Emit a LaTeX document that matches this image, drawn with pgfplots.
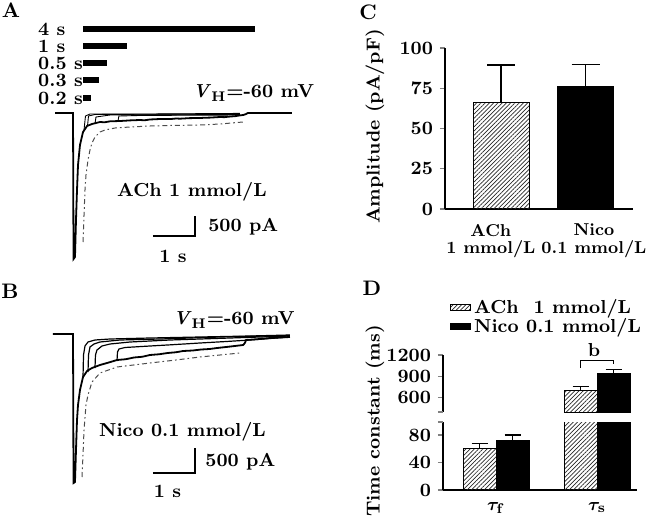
\documentclass[border=0pt]{standalone}
\usepackage{pgfplots}
\pgfplotsset{compat=1.18}
\usetikzlibrary{patterns.meta}
\usepackage{bm}
\newcommand\myf{\fontsize{9.4}{8.8}\selectfont\bfseries}
\newcommand\mys{\fontsize{8.6}{8.6}\selectfont\bfseries}
\newcommand\myl{\fontsize{10.5}{11}\selectfont\bfseries}
\tikzset{hatch/.style={pattern={Lines[angle=45,distance=1.5pt,line width=0.35pt]},pattern color=black!85,draw=black,line width=0.4pt},
 dashdot/.style={gray!60!black,line width=0.5pt,dash pattern=on 2.5pt off 1.5pt on 0.8pt off 1.5pt}}
\pgfplotsset{swatch/.style={legend image code/.code={\draw[##1] (0pt,-1.5pt) rectangle (10pt,1.5pt);}},
  ebar/.style={error bars/.cd,y dir=plus,y explicit,error bar style={line width=0.6pt,solid,black},
  error mark options={rotate=90,mark size=#1,line width=0.6pt,black,solid}}}
\begin{document}
\begin{tikzpicture}
\path[use as bounding box] (0,0) rectangle (325pt,258pt);
\node[font=\myl] at (5.5pt,253pt) {A};
\node[font=\myl] at (5pt,112.5pt) {B};
\node[font=\myl] at (184pt,252pt) {C};
\node[font=\myl] at (186pt,114pt) {D};
\node[font=\myf,rotate=90] at (187.5pt,194.75pt) {Amplitude (pA/pF)};
\node[font=\myf,rotate=90] at (187.5pt,47.5pt) {Time constant (ms)};

% ---------------- Panel A ----------------
\begin{axis}[at={(25pt,125.5pt)},anchor=south west,scale only axis,
  width=126pt,height=124pt,xmin=0,xmax=6,ymin=-3800,ymax=2400,
  hide axis,clip=false]
\addplot[black,line width=3pt] coordinates {(0.786,2100) (4.88,2100)};
\addplot[black,line width=3pt] coordinates {(0.786,1675) (1.833,1675)};
\addplot[black,line width=3pt] coordinates {(0.786,1250) (1.357,1250)};
\addplot[black,line width=3pt] coordinates {(0.786,825) (1.167,825)};
\addplot[black,line width=3pt] coordinates {(0.786,375) (0.976,375)};
\node[font=\myf,anchor=west,inner sep=0pt] at (axis cs:-0.29,2100) {4 s};
\node[font=\myf,anchor=west,inner sep=0pt] at (axis cs:-0.29,1675) {1 s};
\node[font=\myf,anchor=west,inner sep=0pt] at (axis cs:-0.29,1250) {0.5 s};
\node[font=\myf,anchor=west,inner sep=0pt] at (axis cs:-0.29,825) {0.3 s};
\node[font=\myf,anchor=west,inner sep=0pt] at (axis cs:-0.29,375) {0.2 s};
\node[font=\myf] at (axis cs:4.845,500) {\textit{V}$_{\mathbf{H}}$=-60 mV};
% dash-dot trace
\addplot[dashdot] coordinates {(0.786,-3225) (0.81,-2550) (0.833,-1925) (0.857,-1550) (0.905,-1175) (0.952,-925) (1.0,-750) (1.071,-600) (1.19,-475) (1.31,-425) (1.548,-375) (1.905,-350) (2.38,-325) (2.857,-312) (3.571,-300) (4.048,-275) (4.595,-225)};
% short applications
\addplot[black,line width=0.45pt] coordinates {(0.81,-425) (0.845,-75) (0.952,-25) (2.38,-25) (4.52,-10)};
\addplot[black,line width=0.45pt] coordinates {(0.893,-325) (0.917,-75) (1.07,-37) (2.5,-30) (4.52,-25)};
\addplot[black,line width=0.45pt] coordinates {(1.07,-275) (1.095,-100) (1.43,-50) (3.0,-45) (4.52,-37)};
\addplot[black,line width=0.45pt] coordinates {(1.62,-200) (1.64,-75) (2.14,-62) (3.3,-55) (4.52,-50)};
% 4 s trace
\addplot[black,line width=0.9pt] coordinates {(0.12,0) (0.548,0) (0.56,-3650) (0.595,-3600) (0.619,-2675) (0.643,-1925) (0.667,-1300) (0.714,-800) (0.786,-475) (0.881,-325) (1.0,-275) (1.19,-225) (1.3,-232) (1.43,-208) (1.667,-200) (1.8,-192) (1.9,-185) (2.14,-175) (2.25,-182) (2.38,-162) (2.62,-150) (2.86,-152) (3.0,-138) (3.1,-142) (3.33,-128) (3.57,-125) (3.7,-118) (3.81,-115) (4.05,-100) (4.15,-104) (4.29,-88) (4.4,-80) (4.52,-60) (4.6,-50) (4.67,-25) (4.71,0) (5.76,0)};
% scale bar
\addplot[black,line width=0.7pt] coordinates {(2.452,-3075) (3.452,-3075) (3.452,-2575)};
\node[font=\myf] at (axis cs:3.38,-1975) {ACh 1 mmol/L};
\node[font=\myf,anchor=west,inner sep=0pt] at (axis cs:3.76,-2850) {500 pA};
\node[font=\myf] at (axis cs:2.93,-3590) {1 s};
\end{axis}

% ---------------- Panel B ----------------
\begin{axis}[at={(25pt,13.5pt)},anchor=south west,scale only axis,
  width=126pt,height=82.5pt,xmin=0,xmax=6,ymin=-3100,ymax=200,
  hide axis,clip=false]
\node[font=\myf] at (axis cs:4.38,280) {\textit{V}$_{\mathbf{H}}$=-60 mV};
\addplot[dashdot] coordinates {(0.762,-2860) (0.786,-2420) (0.81,-1920) (0.857,-1420) (0.905,-1220) (1.0,-960) (1.19,-780) (1.595,-660) (2.381,-580) (3.0,-520) (3.571,-460) (4.524,-380)};
\addplot[black,line width=0.6pt] coordinates {(0.786,-860) (0.798,-420) (0.833,-240) (0.905,-160) (1.071,-120) (1.429,-100) (2.381,-80) (3.571,-60) (4.762,-40) (5.714,-20)};
\addplot[black,line width=0.6pt] coordinates {(0.905,-760) (0.917,-420) (0.952,-260) (1.048,-200) (1.19,-160) (1.667,-120) (2.619,-100) (4.048,-60) (5.714,-30)};
\addplot[black,line width=0.6pt] coordinates {(1.071,-680) (1.083,-420) (1.119,-320) (1.238,-240) (1.429,-200) (1.905,-160) (2.857,-120) (4.286,-80) (5.714,-40)};
\addplot[black,line width=0.6pt] coordinates {(1.595,-540) (1.607,-360) (1.643,-300) (1.786,-270) (2.381,-240) (2.9,-215) (3.571,-180) (4.2,-150) (4.762,-120) (5.714,-60)};
\addplot[black,line width=0.9pt] coordinates {(0.071,0) (0.548,0) (0.56,-2980) (0.595,-2960) (0.619,-2320) (0.643,-1720) (0.667,-1420) (0.714,-1120) (0.786,-860) (0.881,-740) (1.0,-680) (1.19,-620) (1.4,-570) (1.595,-520) (1.8,-505) (2.0,-470) (2.2,-455) (2.38,-420) (2.6,-405) (2.8,-380) (3.0,-365) (3.17,-340) (3.4,-330) (3.6,-310) (3.8,-300) (3.98,-280) (4.3,-250) (4.6,-220) (4.64,-180) (4.67,-120) (5.0,-100) (5.24,-80) (5.71,-60)};
\addplot[black,line width=0.7pt] coordinates {(2.452,-2780) (3.452,-2780) (3.452,-2280)};
\node[font=\myf] at (axis cs:3.155,-1960) {Nico 0.1 mmol/L};
\node[font=\myf,anchor=west,inner sep=0pt] at (axis cs:3.69,-2560) {500 pA};
\node[font=\myf] at (axis cs:2.8,-3150) {1 s};
\end{axis}

% ---------------- Panel C ----------------
\begin{axis}[at={(222.5pt,153.5pt)},anchor=south west,scale only axis,
  width=94pt,height=80.5pt,xmin=-0.663,xmax=1.562,ymin=0,ymax=100,
  axis x line=bottom,axis y line=left,axis line style={-,line width=0.6pt},
  ytick={0,25,50,75,100},tick align=outside,major tick length=2.5pt,
  y tick style={line width=0.6pt},
  xtick={-0.12,1.10},xticklabels={ACh\\1 mmol/L,Nico\\0.1 mmol/L},
  x tick style={draw=none},
  xticklabel style={align=center,font=\mys,yshift=-1.5pt},
  yticklabel style={font=\myf},
  /pgf/number format/assume math mode=true]
\addplot[ybar,bar width=28pt,bar shift=0pt,hatch,ebar=7pt]
  coordinates {(0,66) +- (0,23.5)};
\addplot[ybar,bar width=28pt,bar shift=0pt,fill=black,draw=black,ebar=7pt]
  coordinates {(1,76) +- (0,14)};
\end{axis}

% ---------------- Panel D (lower) ----------------
\begin{axis}[at={(221.5pt,13pt)},anchor=south west,scale only axis,
  width=97pt,height=34pt,xmin=-0.525,xmax=1.396,ymin=0,ymax=99,
  axis x line=bottom,axis y line=left,axis line style={-,line width=0.6pt},
  ytick={0,40,80},extra y ticks={99},extra y tick labels={},
  tick align=outside,major tick length=2.5pt,y tick style={line width=0.6pt},
  xtick={0,1},xticklabels={$\bm{\tau}_{\mathbf f}$,$\bm{\tau}_{\mathbf s}$},
  x tick style={draw=none},
  xticklabel style={font=\myf},
  yticklabel style={font=\myf},
  /pgf/number format/assume math mode=true]
\addplot[ybar,bar width=16.5pt,bar shift=0pt,hatch,ebar=4pt]
  coordinates {(-0.1634,61) +- (0,7) (0.8366,700) +- (0,58)};
\addplot[ybar,bar width=16.5pt,bar shift=0pt,fill=black,draw=black,ebar=4pt]
  coordinates {(0.1634,72) +- (0,8) (1.1634,935) +- (0,58)};
\end{axis}

% ---------------- Panel D (upper) ----------------
\begin{axis}[at={(221.5pt,52pt)},anchor=south west,scale only axis,
  width=97pt,height=28.5pt,xmin=-0.525,xmax=1.396,ymin=400,ymax=1200,
  axis x line=none,axis y line=left,axis line style={-,line width=0.6pt},
  ytick={600,900,1200},extra y ticks={400},extra y tick labels={},
  tick align=outside,major tick length=2.5pt,y tick style={line width=0.6pt},
  yticklabel style={font=\myf,/pgf/number format/1000 sep={}},
  /pgf/number format/assume math mode=true,
  clip mode=individual,
  legend style={draw=none,fill=none,at={(0.036,2.04)},anchor=north west,
    font=\myf,inner sep=0pt,row sep=-2pt,nodes={inner sep=1.5pt}},
  legend cell align=left]
\addplot[ybar,bar width=16.5pt,bar shift=0pt,hatch,swatch,ebar=4pt]
  coordinates {(0.8366,700) +- (0,58)};
\addlegendentry{ACh\ \ 1 mmol/L}
\addplot[ybar,bar width=16.5pt,bar shift=0pt,fill=black,draw=black,swatch,ebar=4pt]
  coordinates {(1.1634,935) +- (0,58)};
\addlegendentry{Nico 0.1 mmol/L}
\addplot[black,line width=0.5pt,forget plot] coordinates {(0.8366,1018) (0.8366,1116) (1.1634,1116) (1.1634,1074)};
\node[font=\myf] at (axis cs:0.97,1265) {b};
\end{axis}
\end{tikzpicture}
\end{document}
